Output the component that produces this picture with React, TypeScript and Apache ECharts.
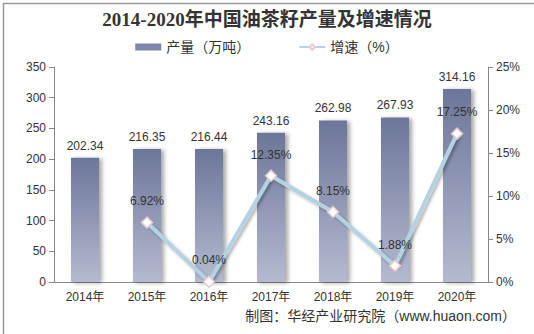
import React, { useEffect, useRef } from "react";
import * as echarts from "echarts";

const categories = ["2014年", "2015年", "2016年", "2017年", "2018年", "2019年", "2020年"];
const production = [202.34, 216.35, 216.44, 243.16, 262.98, 267.93, 314.16];
const growth: (number | null)[] = [null, 6.92, 0.04, 12.35, 8.15, 1.88, 17.25];
const leftTicks = { min: 0, max: 350, interval: 50 };
const rightTicks = { min: 0, max: 25, interval: 5 };

export default function App() {
  const ref = useRef<HTMLDivElement>(null);
  useEffect(() => {
    document.body.style.margin = "0";
    const chart = echarts.init(ref.current!, null, { renderer: "svg" });
    const font = "Arial, 'Liberation Sans', 'Noto Sans CJK SC', sans-serif";
    chart.setOption({
      animation: false,
      backgroundColor: "#ffffff",
      title: {
        text: "2014-2020年中国油茶籽产量及增速情况",
        left: "center",
        top: 5,
        textStyle: {
          fontFamily: "'Liberation Serif', 'Noto Sans CJK SC', serif",
          fontWeight: "bold",
          fontSize: 19,
          color: "#333333",
        },
      },
      legend: {
        top: 35,
        left: "center",
        itemGap: 48,
        itemWidth: 26,
        itemHeight: 7,
        textStyle: { fontFamily: font, fontSize: 14, color: "#333" },
        data: [
          { name: "产量（万吨）", icon: "rect", itemStyle: { color: "#7d86a8" } },
          { name: "增速（%）" },
        ],
      },
      grid: { left: 54, right: 46, top: 67, bottom: 52 },
      xAxis: {
        type: "category",
        data: categories,
        axisLine: { lineStyle: { color: "#888" } },
        axisTick: { alignWithLabel: false, length: 5, lineStyle: { color: "#888" } },
        axisLabel: { color: "#333", fontFamily: font, fontSize: 12, margin: 9 },
      },
      yAxis: [
        {
          type: "value",
          ...leftTicks,
          axisLine: { show: true, lineStyle: { color: "#888" } },
          axisTick: { show: true, length: 5, lineStyle: { color: "#888" } },
          splitLine: { show: false },
          axisLabel: { color: "#333", fontFamily: font, fontSize: 12, margin: 8 },
        },
        {
          type: "value",
          ...rightTicks,
          position: "right",
          axisLine: { show: true, lineStyle: { color: "#888" } },
          axisTick: { show: true, length: 5, lineStyle: { color: "#888" } },
          splitLine: { show: false },
          axisLabel: { color: "#333", fontFamily: font, fontSize: 12, margin: 8, formatter: "{value}%" },
        },
      ],
      series: [
        {
          name: "产量（万吨）",
          type: "bar",
          data: production,
          barWidth: 28,
          itemStyle: {
            color: new echarts.graphic.LinearGradient(0, 0, 0, 1, [
              { offset: 0, color: "#6c7699" },
              { offset: 1, color: "#b4bad0" },
            ]),
            shadowColor: "rgba(0,0,0,0.35)",
            shadowBlur: 4,
            shadowOffsetX: 3,
            shadowOffsetY: 1,
          },
          label: {
            show: true,
            position: "top",
            distance: 6,
            color: "#333",
            fontFamily: font,
            fontSize: 12,
          },
        },
        {
          name: "增速（%）",
          type: "line",
          yAxisIndex: 1,
          data: growth,
          symbol: "diamond",
          symbolSize: 11,
          color: "#b3d3e3",
          lineStyle: {
            color: "#b3d3e3",
            width: 4,
            shadowColor: "rgba(0,0,0,0.3)",
            shadowBlur: 3,
            shadowOffsetX: 2,
            shadowOffsetY: 2,
          },
          itemStyle: { color: "#ffffff", borderColor: "#e8c8cc", borderWidth: 1.5 },
          label: {
            show: true,
            position: "top",
            distance: 9,
            color: "#333",
            fontFamily: font,
            fontSize: 12,
            formatter: (p: any) => p.value.toFixed(2) + "%",
          },
        },
      ],
      graphic: [
        {
          type: "rect",
          left: 1,
          top: 1,
          shape: { width: 532, height: 332 },
          style: { fill: "none", stroke: "#999", lineWidth: 1.5 },
          silent: true,
        },
        {
          type: "text",
          right: 18,
          top: 309,
          style: {
            text: "制图：华经产业研究院（www.huaon.com）",
            fill: "#333",
            font: "14px Arial, 'Noto Sans CJK SC', sans-serif",
          },
        },
      ],
    });
    return () => chart.dispose();
  }, []);
  return <div ref={ref} style={{ width: 534, height: 334 }} />;
}
